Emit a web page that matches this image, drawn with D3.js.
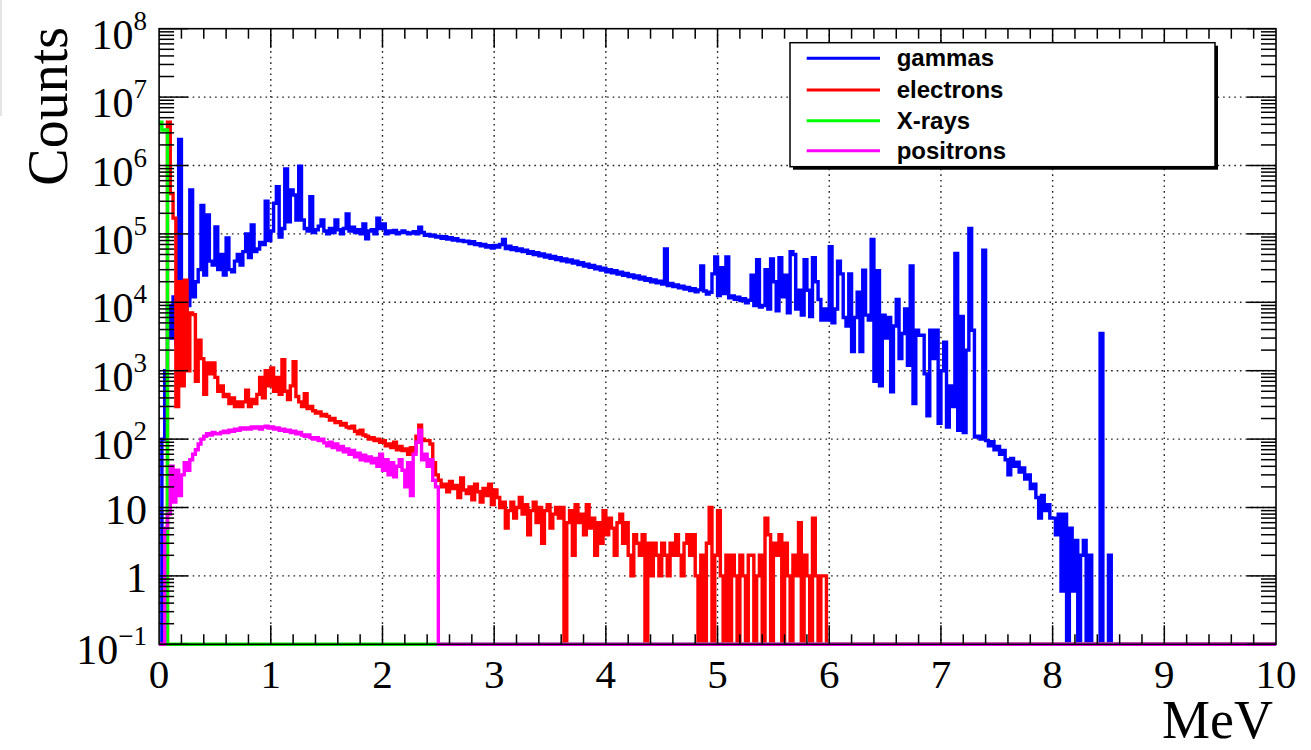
<!DOCTYPE html>
<html><head><meta charset="utf-8">
<script src="https://cdn.jsdelivr.net/npm/d3@7"></script>
<style>body{margin:0;background:#fff}svg{display:block}</style>
</head><body>
<svg id="chart" width="1311" height="750"></svg>
<script>
// ---------------- data ----------------
const binWidth = 0.025; // MeV per bin, bins start at 0
const xTickValues = [0,1,2,3,4,5,6,7,8,9,10];
const yDecades = [-1,0,1,2,3,4,5,6,7,8];
const seriesNames = ["gammas","electrons","X-rays","positrons"];
const seriesColors = ["#0000ff","#ff0000","#00ff00","#ff00ff"];

const gammas = [
0,100,1000,9000,3000,12000,2500,2400000,3000,7000,
9000,440000,12000,20000,30000,260000,25000,190000,40000,35000,
126000,30000,50000,25000,87000,30000,28000,40000,50000,35000,
55000,100000,45000,135000,55000,60000,75000,70000,300000,80000,
110000,280000,490000,90000,120000,890000,150000,440000,370000,160000,
980000,160000,120000,110000,350000,105000,115000,130000,160000,110000,
100000,120000,105000,160000,115000,100000,120000,195000,110000,125000,
105000,115000,100000,140000,85000,110000,115000,100000,170000,120000,
140000,100000,110000,105000,112000,100000,105000,110000,105000,100000,
103000,108000,100000,125000,105000,95000,98000,93000,96000,90000,
92000,86000,91000,84000,88000,81000,85000,79000,80000,77000,
78000,72000,77000,70000,72000,67000,70000,64000,67000,62000,
68000,64000,70000,83000,61000,66000,59000,63000,57000,60000,
55000,58000,52000,55000,50000,53000,48000,51000,46000,49000,
44000,47000,42000,45000,40500,43000,39000,41500,37500,40000,
35500,38000,34000,36000,32500,34500,31000,33000,29500,31500,
28000,30000,27000,29000,25800,27500,24800,26500,23800,25200,
22800,24200,21800,23200,21000,22200,20000,21200,19200,20300,
18500,60000,17600,18800,17000,18000,16300,17200,15600,16500,
14900,15800,14300,15200,34000,14600,13200,14000,26000,46000,
12600,32000,13400,46000,11600,12400,11100,11900,10600,11300,
9800,10700,25000,9000,42000,8500,9000,30000,8000,43000,
20000,7500,45000,12000,25000,7000,55000,50000,8000,15000,
6500,42000,15000,6200,45000,20000,11000,5500,8000,5500,
65000,5000,8000,40000,26000,6000,4500,26000,1900,6000,
14000,1900,29500,6500,5500,83000,700,29000,600,6500,
3000,6000,490,4500,11000,1500,3500,8000,1200,34000,
330,3900,3300,3300,900,220,3900,1500,3900,170,
1000,2600,150,600,300,52000,135,6200,125,2000,
120000,3900,107,110,100,58000,95,80,92,70,
78,60,68,50,30,52,40,46,33,38,
26,30,19,22,14,7,15,9,11,7,
7,4,8,0.6,8,0,5,0.6,3.3,0,
2,3.3,0,2,0,0,0,3500,0,0,
2];

const electrons = [
0,0,0,4300000,390000,170000,300,20000,600,21000,
1000,7000,6600,700,2800,1500,450,1300,900,1300,
800,500,600,420,450,330,400,300,350,300,
350,520,300,380,330,450,800,400,1000,600,
1100,500,800,450,1450,500,380,600,1350,420,
350,300,460,280,300,260,240,250,220,230,
215,190,200,175,180,160,170,150,145,155,
130,120,135,115,110,100,105,95,100,90,
95,80,85,75,90,70,78,68,72,60,
75,65,110,160,100,95,95,85,45,30,
25,20,22,17,24,19,21,14,27,18,
16,20,13,22,17,12,19,15,22,11,
18,14,10,12,5,9,12,7,10,14,
8,11,4,9,12,6,10,3,9,11,
5,8,10,7,10,0,6,9,2,11,
6,8,4,11,5,7,2,6,3,9,
4,7,5,2,6,8,3,6,2,1,
4,3,2,4,0,3,1,3,2,1,
3,2,1,3,2,4,2,1,3,4,
2,4,1,0,2,0,3,10,0,2,
9,1,0,2,0,2,1,0,2,1,
0,2,2,0,1,2,0,7,4,0,
3,2,4,0,3,1,0,2,1,6,
0,2,1,0,7,1,0,1,1];

const xrays = [4300000,3300000,3300000];

const positrons = [
0,0,5,8,40,12,35,15,30,45,
35,50,60,70,85,100,110,120,115,125,
120,120,125,130,125,135,130,140,135,145,
140,145,140,150,145,150,140,150,155,145,
150,140,145,135,140,130,135,125,130,120,
125,115,110,115,105,100,105,95,100,88,
80,90,75,85,70,78,65,72,60,68,
55,62,50,58,48,55,45,52,40,60,
35,50,30,45,28,40,50,35,20,45,
15,60,90,135,50,60,40,50,25,20];

const seriesData = [gammas, electrons, xrays, positrons];

// ---------------- drawing ----------------
const svg = d3.select("#chart");
const M = {left:159.1, right:1276, top:28.7, bottom:644.3};
const x = d3.scaleLinear().domain([0,10]).range([M.left, M.right]);
const y = d3.scaleLog().domain([0.1,1e8]).range([M.bottom, M.top]).clamp(true);
const yMin = 0.1;
const nBins = Math.round((x.domain()[1]-x.domain()[0])/binWidth);

svg.append("rect").attr("width",1311).attr("height",750).attr("fill","#fff");
svg.append("rect").attr("x",0).attr("y",0).attr("width",2).attr("height",116).attr("fill","#e4e4e4");

// grid
const grid = svg.append("g").attr("stroke","#222").attr("stroke-width",1.4).attr("stroke-dasharray","1.6,4");
xTickValues.filter(v=>v>0&&v<10).forEach(v=>{
  grid.append("line").attr("x1",x(v)).attr("x2",x(v)).attr("y1",M.top).attr("y2",M.bottom);
});
yDecades.filter(k=>k>-1&&k<8).forEach(k=>{
  grid.append("line").attr("x1",M.left).attr("x2",M.right).attr("y1",y(Math.pow(10,k))).attr("y2",y(Math.pow(10,k)));
});

// histograms
function stepPoints(vals){
  const pts=[];
  for(let i=0;i<nBins;i++){
    const v = i<vals.length ? vals[i] : 0;
    const vv = v>0 ? v : yMin;
    pts.push([i*binWidth, vv],[(i+1)*binWidth, vv]);
  }
  return pts;
}
const line = d3.line().x(d=>x(d[0])).y(d=>y(d[1]));
seriesData.forEach((vals,si)=>{
  svg.append("path").attr("d",line(stepPoints(vals)))
    .attr("fill","none").attr("stroke",seriesColors[si]).attr("stroke-width",3.4)
    .attr("stroke-linejoin","miter");
});

// axes ticks
const ax = svg.append("g").attr("stroke","#000").attr("stroke-width",1.5);
for(let t=0;t<=50;t++){
  const v=t*0.2, major=(t%5===0);
  const len = major?19:10;
  if(t>0 && t<50){
    ax.append("line").attr("x1",x(v)).attr("x2",x(v)).attr("y1",M.bottom).attr("y2",M.bottom-len);
    ax.append("line").attr("x1",x(v)).attr("x2",x(v)).attr("y1",M.top).attr("y2",M.top+len);
  }
}
yDecades.forEach(k=>{
  const base=Math.pow(10,k);
  ax.append("line").attr("x1",M.left).attr("x2",M.left+29).attr("y1",y(base)).attr("y2",y(base));
  ax.append("line").attr("x1",M.right).attr("x2",M.right-29).attr("y1",y(base)).attr("y2",y(base));
  if(k<8){
    for(let m=2;m<=9;m++){
      const yy=y(m*base);
      ax.append("line").attr("x1",M.left).attr("x2",M.left+15).attr("y1",yy).attr("y2",yy);
      ax.append("line").attr("x1",M.right).attr("x2",M.right-15).attr("y1",yy).attr("y2",yy);
    }
  }
});
svg.append("rect").attr("x",M.left).attr("y",M.top).attr("width",M.right-M.left).attr("height",M.bottom-M.top)
  .attr("fill","none").attr("stroke","#000").attr("stroke-width",1.6);

// labels
const serif = "'Liberation Serif','Times New Roman',serif";
const xl = svg.append("g").attr("font-family",serif).attr("font-size",41).attr("fill","#000").attr("text-anchor","middle");
xTickValues.forEach(v=>{
  xl.append("text").attr("x",x(v)).attr("y",688).text(v);
});
const yl = svg.append("g").attr("font-family",serif).attr("fill","#000").attr("text-anchor","end");
yDecades.forEach(k=>{
  const yy=y(Math.pow(10,k));
  if(k===0||k===1){
    yl.append("text").attr("x",147).attr("y",yy+16).attr("font-size",42).text(k===0?"1":"10");
  } else {
    const t=yl.append("text").attr("x",147).attr("y",yy+20).attr("font-size",42);
    t.append("tspan").text("10");
    t.append("tspan").attr("dy",-19).attr("font-size",27).text(k<0?"\u2212"+(-k):String(k));
  }
});
svg.append("text").attr("font-family",serif).attr("font-size",56).attr("text-anchor","end")
  .attr("transform","translate(67,27) rotate(-90)").text("Counts");
svg.append("text").attr("font-family",serif).attr("font-size",54).attr("text-anchor","end")
  .attr("x",1273).attr("y",738).text("MeV");

// legend
const L = {x:790,y:42.7,w:425,h:124};
svg.append("rect").attr("x",L.x+3).attr("y",L.y+3).attr("width",L.w).attr("height",L.h).attr("fill","#000");
svg.append("rect").attr("x",L.x).attr("y",L.y).attr("width",L.w).attr("height",L.h).attr("fill","#fff").attr("stroke","#000").attr("stroke-width",1.5);
const legY = [58.3,90,120.7,150.7];
seriesNames.forEach((n,i)=>{
  svg.append("line").attr("x1",806.7).attr("x2",880).attr("y1",legY[i]).attr("y2",legY[i])
    .attr("stroke",seriesColors[i]).attr("stroke-width",3);
  svg.append("text").attr("x",896.7).attr("y",legY[i]+8).attr("font-family","'Liberation Sans',Arial,sans-serif")
    .attr("font-weight","bold").attr("font-size",24).attr("fill","#000").text(n);
});
</script>
</body></html>
